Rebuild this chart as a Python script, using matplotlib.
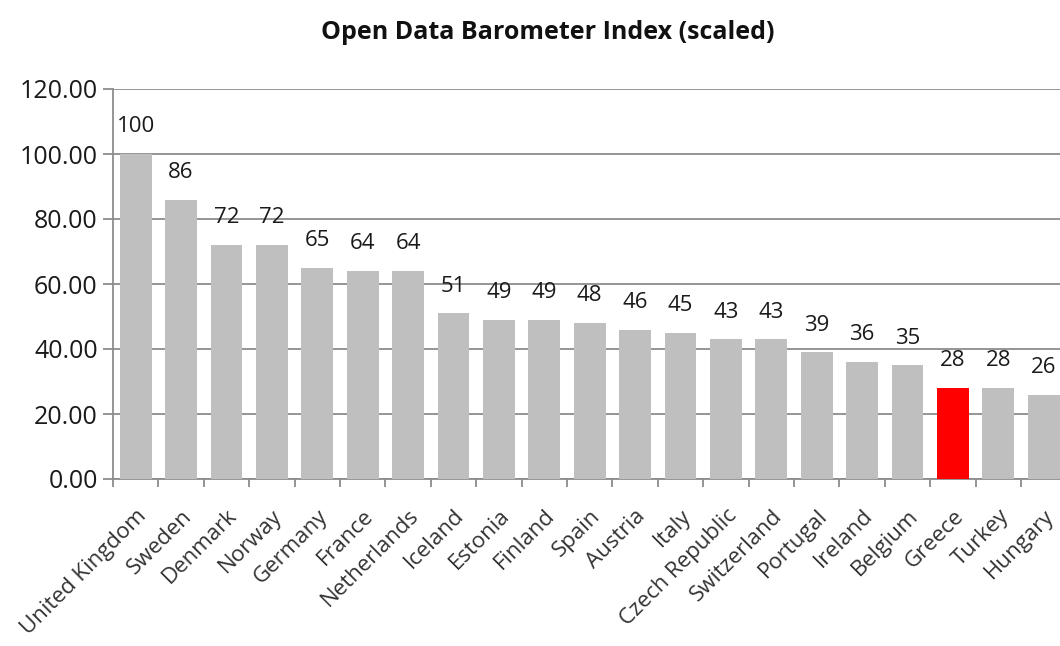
import numpy as np
import matplotlib.pyplot as plt
import matplotlib.transforms as mtransforms
from matplotlib.ticker import FixedLocator

# Open Data Barometer Index (scaled)
countries = ["United Kingdom", "Sweden", "Denmark", "Norway", "Germany", "France",
             "Netherlands", "Iceland", "Estonia", "Finland", "Spain", "Austria",
             "Italy", "Czech Republic", "Switzerland", "Portugal", "Ireland",
             "Belgium", "Greece", "Turkey", "Hungary"]
scores = [100, 86, 72, 72, 65, 64, 64, 51, 49, 49, 48, 46, 45, 43, 43, 39, 36, 35, 28, 28, 26]
highlight = "Greece"

plt.rcParams['font.family'] = ['Open Sans', 'DejaVu Sans']

fig = plt.figure(figsize=(10.6, 6.46), dpi=100)
ax = fig.add_axes([113 / 1060, 1 - 479 / 646, (1060 - 113) / 1060, (479 - 89) / 646])

x = np.arange(len(countries))
colors = ['#ff0000' if c == highlight else '#bfbfbf' for c in countries]
ax.bar(x, scores, width=0.7, color=colors, zorder=3)

for xi, v in zip(x, scores):
    ax.annotate(str(v), (xi, v), xytext=(0, 12), textcoords='offset points',
                ha='center', va='bottom', fontsize=16, color='#1a1a1a')

ax.set_xlim(-0.5, 20.36)
ax.set_ylim(0, 120)
ax.set_yticks(np.arange(0, 121, 20))
ax.set_yticklabels([f"{v:.2f}" for v in np.arange(0, 121, 20)], fontsize=18, color='#1a1a1a')
ax.yaxis.grid(True, color='#8c8c8c', linewidth=1.3, zorder=0)

ax.set_xticks(x)
ax.set_xticklabels(countries, rotation=45, ha='right', rotation_mode='anchor',
                   fontsize=16, color='#333333')
# nudge rotated labels a little to the left
shift = mtransforms.ScaledTranslation(-6 / 100, 0, fig.dpi_scale_trans)
for lab in ax.get_xticklabels():
    lab.set_transform(lab.get_transform() + shift)
ax.xaxis.set_minor_locator(FixedLocator(np.arange(-0.5, len(countries), 1)))
ax.tick_params(axis='x', which='major', length=0, pad=19)
ax.tick_params(axis='x', which='minor', length=6, width=1.3, color='#8c8c8c')
ax.tick_params(axis='y', length=7, width=1.3, color='#8c8c8c', pad=4)

for s in ['top', 'right']:
    ax.spines[s].set_visible(False)
for s in ['left', 'bottom']:
    ax.spines[s].set_color('#8c8c8c')
    ax.spines[s].set_linewidth(1.3)

fig.text(0.517, 0.95, "Open Data Barometer Index (scaled)", ha='center', va='center',
         fontsize=18, fontweight='bold', color='#111111')

fig.savefig("out.png", dpi=100)
